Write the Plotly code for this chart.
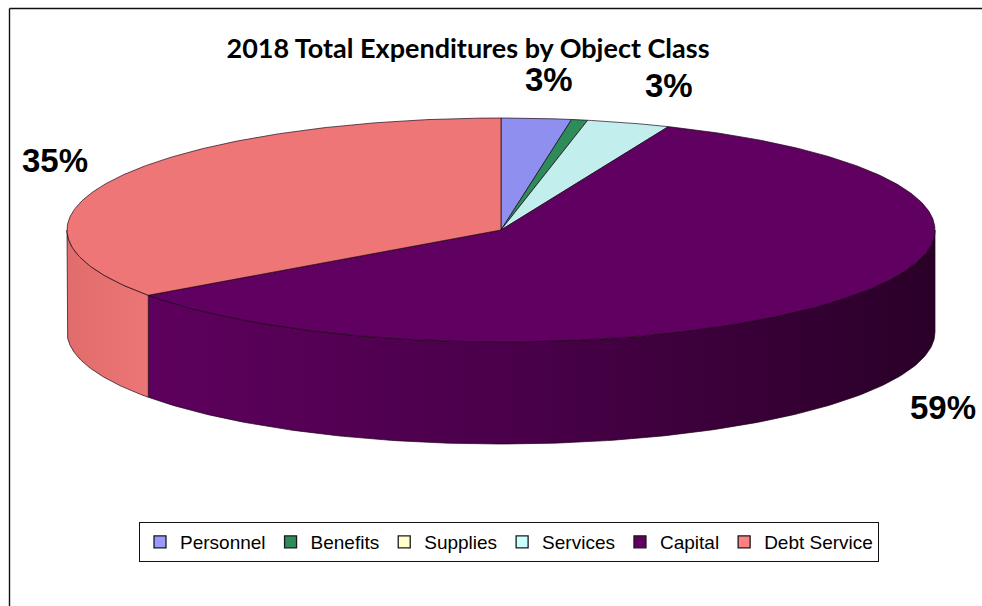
import numpy as np
import plotly.graph_objects as go

# Share of 2018 total expenditures (percent) by object class
categories = ["Personnel", "Benefits", "Supplies", "Services", "Capital", "Debt Service"]
shares = [2.6, 0.6, 0.0, 3.1, 58.8, 34.9]

# Styling per class: top face colour and side-wall gradient (left -> right)
top_colors = ["#8f8ff0", "#2e8b5a", "#ffffcc", "#c2eeee", "#600060", "#ee7676"]
side_colors = [
    ["#7b7bd6", "#5a5aa8"],
    ["#267549", "#1a5433"],
    ["#e6e6b8", "#c4c49c"],
    ["#aad6d6", "#86aaaa"],
    ["#5e005e", "#480048", "#2a0028"],
    ["#e06c6c", "#ec7676"],
]
legend_colors = ["#9999ff", "#2e8b5a", "#ffffcc", "#ccffff", "#600060", "#ff8080"]

# Projected pie geometry (pixel space of the page)
W, H = 982, 606
CX, CY = 501, 230
RX, RY = 434, 112
DEPTH = 102
EDGE = dict(color="rgba(25,0,20,0.85)", width=0.8)


def rim(deg):
    t = np.radians(deg)
    return CX + RX * np.sin(t), CY - RY * np.cos(t)


total = float(sum(shares))
bounds = np.concatenate([[0.0], np.cumsum(shares)]) / total * 360.0

fig = go.Figure()

# Front-facing side walls (visible between 90 and 270 degrees, clockwise from top)
for i, name in enumerate(categories):
    a0, a1 = bounds[i], bounds[i + 1]
    lo, hi = max(a0, 90.0), min(a1, 270.0)
    if hi <= lo:
        continue
    ts = np.linspace(lo, hi, 180)
    xs, ys = rim(ts)
    px = np.concatenate([xs, xs[::-1], xs[:1]])
    py = np.concatenate([ys, (ys + DEPTH)[::-1], ys[:1]])
    cols = side_colors[i]
    scale = [[k / (len(cols) - 1), c] for k, c in enumerate(cols)]
    fig.add_trace(go.Scatter(
        x=px, y=py, mode="lines", fill="toself",
        fillgradient=dict(type="horizontal", colorscale=scale),
        line=EDGE, hoverinfo="skip", showlegend=False,
    ))

# Top faces of the slices
for i, name in enumerate(categories):
    a0, a1 = bounds[i], bounds[i + 1]
    if a1 - a0 <= 0:
        continue
    ts = np.linspace(a0, a1, max(8, int((a1 - a0) * 2)))
    xs, ys = rim(ts)
    fig.add_trace(go.Scatter(
        x=np.concatenate([[CX], xs, [CX]]),
        y=np.concatenate([[CY], ys, [CY]]),
        mode="lines", fill="toself", fillcolor=top_colors[i],
        line=EDGE, name=name, hoverinfo="skip", showlegend=False,
    ))

# Legend entries
for i, name in enumerate(categories):
    fig.add_trace(go.Scatter(
        x=[None], y=[None], mode="markers", name=name,
        marker=dict(symbol="square", size=12, color=legend_colors[i],
                    line=dict(color="#1a1a1a", width=1.3)),
    ))

# Percentage labels placed outside the slice mid-angles
LABEL_SIZE = 33
for i, v in enumerate(shares):
    if v < 1.5:
        continue
    mid = (bounds[i] + bounds[i + 1]) / 2
    t = np.radians(mid)
    s, c = np.sin(t), np.cos(t)
    kx = 1.2 if abs(s) > 0.5 else 1.3
    lx = CX + RX * kx * s
    ly = CY - RY * 1.35 * c
    if c < 0:
        ly += DEPTH * 0.82
    text = f"{round(v)}%"
    ndig = sum(ch.isdigit() for ch in text)
    w = LABEL_SIZE * (0.556 * ndig + 0.889)
    if s > 0.5:
        left = lx
    elif s < -0.5:
        left = lx - w
    else:
        left = lx - w / 2
    left = min(max(left, 20), W - 4 - w)
    fig.add_annotation(
        x=left, y=ly, xref="x", yref="y", text=f"<b>{text}</b>",
        showarrow=False, xanchor="left", yanchor="middle",
        font=dict(family="Liberation Sans, Arial", size=LABEL_SIZE, color="black"),
    )

# Chart-area frame: left and top edges
frame = dict(color="#111111", width=1.4)
fig.add_shape(type="line", x0=9.5, x1=9.5, y0=8.5, y1=H, xref="x", yref="y", line=frame)
fig.add_shape(type="line", x0=9.5, x1=W, y0=8.5, y1=8.5, xref="x", yref="y", line=frame)

fig.update_layout(
    width=W, height=H,
    margin=dict(l=0, r=0, t=0, b=0),
    paper_bgcolor="white", plot_bgcolor="white",
    xaxis=dict(range=[0, W], visible=False, fixedrange=True),
    yaxis=dict(range=[H, 0], visible=False, fixedrange=True),
    title=dict(
        text="<b>2018 Total Expenditures by Object Class</b>",
        x=468 / W, xanchor="center", y=1 - 49 / H, yanchor="middle",
        font=dict(family="Lato, Carlito, Calibri, sans-serif", size=27, color="black"),
    ),
    legend=dict(
        orientation="h", x=509 / W, xanchor="center", y=1 - 522 / H, yanchor="top",
        bordercolor="#111111", borderwidth=1, bgcolor="white",
        font=dict(family="Liberation Sans, Arial", size=19, color="black"),
        itemclick=False, itemdoubleclick=False,
    ),
    showlegend=True,
)

fig.write_html("out.html")
